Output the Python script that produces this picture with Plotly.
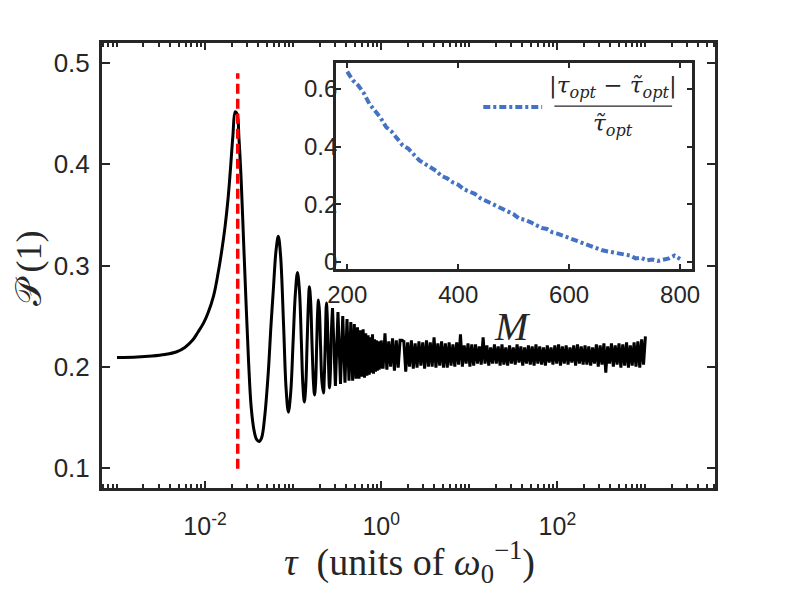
import numpy as np
import plotly.graph_objects as go

# main curve, smooth part (peak and first few oscillations)
tau_smooth = [0.0010, 0.0017, 0.0025, 0.0035, 0.0047, 0.0059, 0.0072, 0.0083, 0.0096, 0.0108,
              0.0125, 0.0141, 0.0155, 0.0169, 0.0182, 0.0193, 0.0207, 0.0220, 0.0231, 0.0243,
              0.0257, 0.0275, 0.0293, 0.0312, 0.0334, 0.0360, 0.0385, 0.0412, 0.0440, 0.0475,
              0.0522, 0.0560, 0.0596, 0.0640, 0.0679, 0.0720, 0.0780, 0.0830, 0.0883, 0.0940,
              0.1000, 0.1060, 0.112, 0.118, 0.124, 0.129, 0.134, 0.139, 0.144, 0.149,
              0.153, 0.158, 0.164, 0.170, 0.175, 0.180, 0.185, 0.190, 0.194, 0.199,
              0.205, 0.212, 0.221, 0.226, 0.232, 0.239, 0.244, 0.250, 0.259, 0.265,
              0.272, 0.280]
p_smooth = [0.209, 0.2095, 0.2105, 0.212, 0.2145, 0.219, 0.226, 0.234, 0.243, 0.253,
            0.270, 0.293, 0.315, 0.339, 0.365, 0.392, 0.428, 0.452, 0.450, 0.425,
            0.385, 0.320, 0.260, 0.205, 0.160, 0.137, 0.128, 0.126, 0.130, 0.150,
            0.194, 0.240, 0.276, 0.315, 0.329, 0.310, 0.240, 0.180, 0.155, 0.175,
            0.225, 0.272, 0.293, 0.275, 0.225, 0.182, 0.165, 0.180, 0.222, 0.262,
            0.279, 0.265, 0.222, 0.185, 0.172, 0.184, 0.220, 0.255, 0.266, 0.255,
            0.220, 0.186, 0.174, 0.190, 0.225, 0.263, 0.250, 0.215, 0.179, 0.195,
            0.235, 0.258]

# dense oscillation, peaks and troughs
tau_osc = [0.280, 0.302, 0.323, 0.345, 0.366, 0.388, 0.409, 0.431, 0.452, 0.474,
           0.495, 0.517, 0.538, 0.560, 0.581, 0.603, 0.624, 0.646, 0.667, 0.689,
           0.710, 0.732, 0.753, 0.775, 0.796, 0.818, 0.839, 0.861, 0.882, 0.904,
           0.925, 0.947, 0.968, 0.990]
p_osc = [0.258, 0.181, 0.254, 0.183, 0.250, 0.184, 0.247, 0.186, 0.244, 0.186,
         0.242, 0.188, 0.239, 0.188, 0.236, 0.190, 0.237, 0.189, 0.233, 0.191,
         0.231, 0.192, 0.229, 0.194, 0.232, 0.193, 0.227, 0.195, 0.226, 0.196,
         0.225, 0.197, 0.225, 0.198]

# noisy tail, tau from 1 to 1000
p_noise = [0.226, 0.198, 0.233, 0.197, 0.225, 0.200, 0.228, 0.196, 0.226, 0.199,
           0.226, 0.226, 0.225, 0.195, 0.224, 0.200, 0.226, 0.198, 0.223, 0.199,
           0.225, 0.201, 0.224, 0.198, 0.226, 0.200, 0.224, 0.200, 0.229, 0.199,
           0.223, 0.201, 0.225, 0.199, 0.223, 0.199, 0.224, 0.201, 0.222, 0.200,
           0.224, 0.202, 0.232, 0.200, 0.221, 0.203, 0.223, 0.200, 0.222, 0.201,
           0.222, 0.203, 0.220, 0.202, 0.229, 0.203, 0.221, 0.201, 0.219, 0.203,
           0.222, 0.203, 0.220, 0.201, 0.222, 0.202, 0.219, 0.201, 0.221, 0.203,
           0.219, 0.202, 0.222, 0.204, 0.220, 0.201, 0.219, 0.203, 0.221, 0.202,
           0.220, 0.201, 0.222, 0.203, 0.220, 0.202, 0.219, 0.201, 0.221, 0.204,
           0.219, 0.202, 0.221, 0.203, 0.222, 0.201, 0.220, 0.203, 0.221, 0.202,
           0.219, 0.204, 0.221, 0.201, 0.222, 0.203, 0.220, 0.202, 0.221, 0.202,
           0.220, 0.201, 0.219, 0.203, 0.222, 0.200, 0.221, 0.202, 0.223, 0.194,
           0.220, 0.203, 0.223, 0.200, 0.221, 0.202, 0.223, 0.199, 0.222, 0.201,
           0.224, 0.199, 0.221, 0.201, 0.224, 0.200, 0.225, 0.199, 0.227, 0.202,
           0.230]
tau_noise = np.logspace(0, 3, len(p_noise))

tau_opt = 0.0235
vline_p = [0.099, 0.49]

# inset: relative error vs M
M = list(range(200, 801, 10))
rel_err = [0.660, 0.630, 0.612, 0.585, 0.548, 0.522, 0.500, 0.468, 0.452, 0.428,
           0.404, 0.393, 0.372, 0.352, 0.340, 0.328, 0.316, 0.298, 0.290, 0.276,
           0.268, 0.252, 0.244, 0.236, 0.221, 0.212, 0.200, 0.192, 0.184, 0.175,
           0.165, 0.150, 0.146, 0.138, 0.126, 0.118, 0.114, 0.102, 0.097, 0.090,
           0.081, 0.074, 0.069, 0.060, 0.055, 0.049, 0.040, 0.036, 0.032, 0.030,
           0.025, 0.022, 0.012, 0.014, 0.005, 0.008, 0.003, 0.009, 0.012, 0.022,
           0.010]

axc = "#262626"
blue = "#4472C4"
serif = "Liberation Serif"
sans = "Liberation Sans, Arial"
dashdot = "7px,3px,3px,3px"

minor_x = [k * 10.0 ** e for e in range(-4, 4) for k in range(2, 10)] + [1e-3, 1e-1, 10, 1e3]

fig = go.Figure()
fig.add_trace(go.Scatter(x=tau_smooth, y=p_smooth, mode="lines", line=dict(color="black", width=3, shape="spline"),
                         showlegend=False))
fig.add_trace(go.Scatter(x=tau_osc, y=p_osc, mode="lines", line=dict(color="black", width=3), showlegend=False))
fig.add_trace(go.Scatter(x=tau_noise, y=p_noise, mode="lines", line=dict(color="black", width=3), showlegend=False))
fig.add_trace(go.Scatter(x=[tau_opt, tau_opt], y=vline_p, mode="lines",
                         line=dict(color="red", width=3.5, dash="10px,5px"), showlegend=False))
fig.add_trace(go.Scatter(x=M, y=rel_err, mode="lines", line=dict(color=blue, width=4, dash=dashdot),
                         xaxis="x2", yaxis="y2", showlegend=False))

# the page body adds an 8px offset, margins below compensate for it
fig.update_layout(
    width=789, height=592,
    margin=dict(l=94, r=82, t=35, b=112),
    paper_bgcolor="white", plot_bgcolor="white",
    xaxis=dict(type="log", range=[-3.17, 3.79], domain=[0, 1],
               tickvals=[1e-2, 1, 1e2], ticktext=["10<sup>-2</sup>", "10<sup>0</sup>", "10<sup>2</sup>"],
               ticks="inside", ticklen=7, tickwidth=2, tickcolor=axc,
               minor=dict(tickvals=minor_x, ticks="inside", ticklen=4, tickwidth=2, tickcolor=axc, showgrid=False),
               showline=True, linewidth=3, linecolor=axc, mirror="allticks",
               showgrid=False, zeroline=False, tickfont=dict(family=sans, size=25, color=axc),
               ticklabelstandoff=14),
    yaxis=dict(range=[0.08, 0.52], domain=[0, 1], tickvals=[0.1, 0.2, 0.3, 0.4, 0.5],
               ticktext=["0.1", "0.2", "0.3", "0.4", "0.5"],
               ticks="inside", ticklen=8, tickwidth=2, tickcolor=axc,
               showline=True, linewidth=3, linecolor=axc, mirror="allticks",
               showgrid=False, zeroline=False, tickfont=dict(family=sans, size=26, color=axc),
               ticklabelstandoff=4),
    xaxis2=dict(range=[180, 821], domain=[0.382, 0.962], anchor="y2",
                tickvals=[200, 400, 600, 800], ticks="inside", ticklen=5, tickwidth=2, tickcolor=axc,
                showline=True, linewidth=3, linecolor=axc, mirror="allticks",
                showgrid=False, zeroline=False, tickfont=dict(family=sans, size=24, color=axc),
                ticklabelstandoff=2),
    yaxis2=dict(range=[-0.025, 0.69], domain=[0.492, 0.955], anchor="x2",
                tickvals=[0, 0.2, 0.4, 0.6], ticktext=["0", "0.2", "0.4", "0.6"],
                ticks="inside", ticklen=5, tickwidth=2, tickcolor=axc,
                showline=True, linewidth=3, linecolor=axc, mirror="allticks",
                showgrid=False, zeroline=False, tickfont=dict(family=sans, size=24, color=axc),
                ticklabelstandoff=-9),
)

# axis labels
fig.add_annotation(x=0.502, y=-0.166, xref="paper", yref="paper", showarrow=False,
                   xanchor="center", yanchor="middle",
                   text="<i>τ</i>  (units of <i>ω</i><sub>0</sub><sup>−1</sup>)",
                   font=dict(family=serif, size=38, color=axc))
fig.add_annotation(x=-0.12, y=0.494, xref="paper", yref="paper", showarrow=False, textangle=-90,
                   xanchor="center", yanchor="middle",
                   text="<span style='font-family:DejaVu Sans'>𝒫</span>\u2009(1)",
                   font=dict(family=serif, size=36, color=axc))
fig.add_annotation(x=0.669, y=0.362, xref="paper", yref="paper", showarrow=False,
                   xanchor="center", yanchor="middle",
                   text="<i>M</i>", font=dict(family=serif, size=40, color=axc))

# inset legend: dash-dot sample and fraction
fig.add_shape(type="line", xref="paper", yref="paper", x0=0.622, x1=0.718, y0=0.856, y1=0.856,
              line=dict(color=blue, width=4, dash=dashdot))
fig.add_shape(type="line", xref="paper", yref="paper", x0=0.738, x1=0.93, y0=0.858, y1=0.858,
              line=dict(color=axc, width=1.2))
fig.add_annotation(x=0.834, y=0.862, xref="paper", yref="paper", showarrow=False,
                   xanchor="center", yanchor="bottom",
                   text="|<i>τ</i><sub><i>opt</i></sub> − <i>τ̃</i><sub><i>opt</i></sub>|",
                   font=dict(family="DejaVu Serif", size=23, color=axc))
fig.add_annotation(x=0.834, y=0.853, xref="paper", yref="paper", showarrow=False,
                   xanchor="center", yanchor="top",
                   text="<i>τ̃</i><sub><i>opt</i></sub>",
                   font=dict(family="DejaVu Serif", size=23, color=axc))

fig.write_html("out.html")
